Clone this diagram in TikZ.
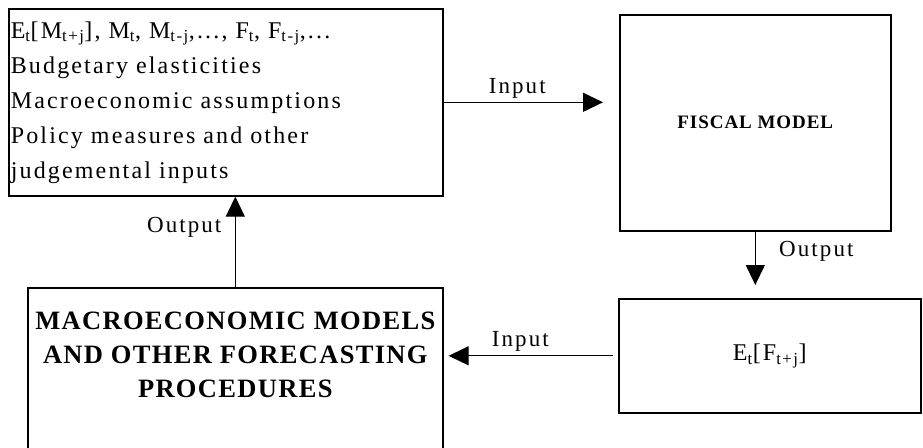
\documentclass[tikz,border=0pt]{standalone}
\usepackage{fontspec}
\setmainfont{Liberation Serif}[LetterSpace=9]
\newfontfamily\capsfont{Liberation Serif}[LetterSpace=5]
\usetikzlibrary{arrows.meta}
\newcommand\sbs[1]{\textsubscript{#1}}

\tikzset{
  box/.style={draw, line width=1.6pt, rectangle, anchor=north west, inner sep=0pt},
  arr/.style={line width=1.2pt, -{Triangle[length=20pt,width=19pt]}},
  lbl/.style={font=\fontsize{23}{26}\selectfont}
}

\begin{document}
\begin{tikzpicture}[x=1pt,y=1pt]
  \useasboundingbox (0,0) rectangle (923,-447);
  % boxes
  \node[box, minimum width=434pt, minimum height=187pt, text width=430pt, align=left, inner xsep=2pt,
        font=\fontsize{24}{35}\selectfont] (inputs) at (8,-8)
    {E\sbs{t}[M\sbs{t+j}], M\sbs{t}, M\sbs{t-j},..., F\sbs{t}, F\sbs{t-j},...\\
     Budgetary elasticities\\
     Macroeconomic assumptions\\
     Policy measures and other\\
     judgemental inputs};
  \node[box, minimum width=271pt, minimum height=216pt, font=\capsfont\bfseries\fontsize{19}{22}\selectfont] (fiscal) at (619,-14) {\raisebox{-5pt}{FISCAL MODEL}};
  \node[box, minimum width=302pt, minimum height=114pt, font=\fontsize{24}{28}\selectfont] (ef) at (618,-298) {E\sbs{t}[F\sbs{t+j}]};
  \node[box, minimum width=415pt, minimum height=175pt] (macro) at (27,-287) {};
  \node[anchor=north, yshift=-21pt, align=center, font=\capsfont\bfseries\fontsize{26.5}{34}\selectfont] (macrolbl) at (macro.north)
    {MACROECONOMIC MODELS\\AND OTHER FORECASTING\\PROCEDURES};
  % connectors
  \draw[arr, shorten >=16pt] (inputs.east) -- (inputs.east -| fiscal.west) node[lbl, pos=0.42, above] {Input};
  \draw[arr, shorten >=13pt] (fiscal.south) -- (fiscal.south |- ef.north) node[lbl, pos=0.3, right=20pt] {Output};
  \draw[arr, shorten <=5pt, shorten >=5pt] (ef.west) -- (ef.west -| macro.east) node[lbl, pos=0.56, above] {Input};
  \draw[arr] (macro.north) -- (macro.north |- inputs.south) node[lbl, pos=0.66, left=10pt] {Output};
\end{tikzpicture}
\end{document}
